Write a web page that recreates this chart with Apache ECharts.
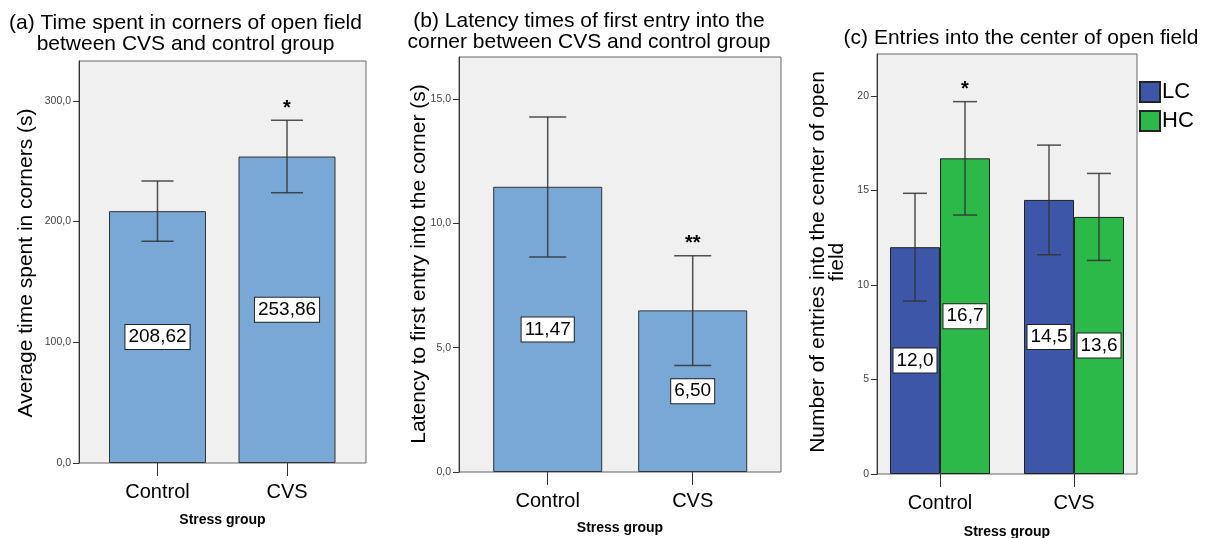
<!DOCTYPE html>
<html><head><meta charset="utf-8">
<script src="https://cdn.jsdelivr.net/npm/echarts@6/dist/echarts.min.js"></script>
<style>html,body{margin:0;padding:0;background:#fff}#c{width:1209px;height:538px}</style>
</head><body><div id="c"></div>
<script>
// ---- data ----
var categories = ['Control', 'CVS'];
// (a) time spent in corners
var aMeans = [208.62, 253.86];
var aLow = [183.6, 223.9];
var aHigh = [233.6, 283.9];
var aSig = ['', '*'];
var aTicks = [0, 100, 200, 300];
// (b) latency to first entry
var bMeans = [11.47, 6.50];
var bLow = [8.65, 4.28];
var bHigh = [14.28, 8.70];
var bSig = ['', '**'];
var bTicks = [0, 5, 10, 15];
// (c) entries into center
var cGroups = ['LC', 'HC'];
var cLC = [12.0, 14.5];
var cHC = [16.7, 13.6];
var cLCLow = [9.15, 11.6];
var cLCHigh = [14.85, 17.4];
var cHCLow = [13.7, 11.3];
var cHCHigh = [19.7, 15.9];
var cLCSig = ['', ''];
var cHCSig = ['*', ''];
var cTicks = [0, 5, 10, 15, 20];

var FONT = 'Liberation Sans, Arial, sans-serif';
var chart = echarts.init(document.getElementById('c'));

function comma(v, d) { return v.toFixed(d).replace('.', ','); }

function errSeries(xi, yi, low, high, sig, capW, offset) {
  var data = low.map(function (l, i) { return [i, l, high[i]]; });
  return {
    type: 'custom', xAxisIndex: xi, yAxisIndex: yi, z: 10, silent: true,
    data: data,
    renderItem: function (params, api) {
      var i = api.value(0);
      var top = api.coord([i, api.value(2)]);
      var bot = api.coord([i, api.value(1)]);
      var x = top[0] + offset;
      var st = { stroke: '#333', lineWidth: 1.5, opacity: 0.85 };
      var ch = [
        { type: 'line', shape: { x1: x, y1: top[1], x2: x, y2: bot[1] }, style: st },
        { type: 'line', shape: { x1: x - capW / 2, y1: top[1], x2: x + capW / 2, y2: top[1] }, style: st },
        { type: 'line', shape: { x1: x - capW / 2, y1: bot[1], x2: x + capW / 2, y2: bot[1] }, style: st }
      ];
      if (sig[params.dataIndex]) {
        ch.push({ type: 'text', style: { text: sig[params.dataIndex], x: x, y: top[1] - 12, align: 'center', verticalAlign: 'middle', font: 'bold 20px ' + FONT, fill: '#000' } });
      }
      return { type: 'group', children: ch };
    }
  };
}

function frameY(gi, max, ticks, dec) {
  return {
    gridIndex: gi, type: 'value', min: 0, max: max,
    axisLine: { show: true, lineStyle: { color: '#333', width: 1 } },
    axisTick: { show: true, length: 6, lineStyle: { color: '#333' }, customValues: ticks },
    axisLabel: { color: '#444', fontSize: 10.5, fontFamily: FONT, margin: 8, customValues: ticks,
      formatter: function (v) { return ticks.indexOf(v) >= 0 ? comma(v, dec) : ''; } },
    splitLine: { show: false }
  };
}
function hiddenY(gi, max) { return { gridIndex: gi, type: 'value', min: 0, max: max, show: false }; }
function hiddenX(gi) { return { gridIndex: gi, type: 'category', data: [''], show: false }; }
function dataX(gi) {
  return {
    gridIndex: gi, type: 'category', data: categories,
    axisLine: { show: false },
    axisTick: { show: true, alignWithLabel: true, length: 13, lineStyle: { color: '#333' } },
    axisLabel: { color: '#000', fontSize: 20, fontFamily: FONT, margin: 19 },
    splitLine: { show: false }
  };
}
var frameGrid = { show: true, backgroundColor: '#f0f0f0', borderColor: '#666', borderWidth: 1 };
function fg(l, r, t, b) { return Object.assign({ left: l, width: r - l, top: t, height: b - t }, frameGrid); }
function dg(l, r, t, b) { return { left: l, width: r - l, top: t, height: b - t }; }

var boxLabel = function (dec) {
  return { show: true, position: 'inside', color: '#000', fontSize: 19, fontFamily: FONT,
    backgroundColor: '#fff', borderColor: '#222', borderWidth: 1, padding: [3, 3, 2, 3],
    formatter: function (p) { return comma(p.value, dec); } };
};

var option = {
  animation: false,
  textStyle: { fontFamily: FONT },
  grid: [
    fg(79, 366, 61, 463), dg(92.75, 351.75, 61, 463),
    fg(459, 781, 57, 472), dg(475.2, 765.2, 57, 472),
    fg(877, 1137, 54, 474), dg(873, 1141, 54, 474)
  ],
  xAxis: [hiddenX(0), dataX(1), hiddenX(2), dataX(3), hiddenX(4), dataX(5)],
  yAxis: [
    frameY(0, 333, aTicks, 1), hiddenY(1, 333),
    frameY(2, 16.69, bTicks, 1), hiddenY(3, 16.69),
    frameY(4, 22.22, cTicks, 0), hiddenY(5, 22.22)
  ],
  legend: {
    data: cGroups, orient: 'vertical', left: 1134, top: 76, itemWidth: 20, itemHeight: 20, itemGap: 7,
    icon: 'rect', textStyle: { fontSize: 22, color: '#000', fontFamily: FONT, padding: [0, 0, 0, -3] }
  },
  series: [
    { type: 'bar', xAxisIndex: 1, yAxisIndex: 1, data: aMeans, barWidth: 97,
      itemStyle: { color: '#7aa8d6', borderColor: '#333', borderWidth: 1 }, label: boxLabel(2) },
    errSeries(1, 1, aLow, aHigh, aSig, 32, 0),
    { type: 'bar', xAxisIndex: 3, yAxisIndex: 3, data: bMeans, barWidth: 109,
      itemStyle: { color: '#7aa8d6', borderColor: '#333', borderWidth: 1 }, label: boxLabel(2) },
    errSeries(3, 3, bLow, bHigh, bSig, 37, 0),
    { name: 'LC', type: 'bar', xAxisIndex: 5, yAxisIndex: 5, data: cLC, barWidth: 50, barGap: '0%',
      itemStyle: { color: '#3d56a8', borderColor: '#222', borderWidth: 1 }, label: boxLabel(1) },
    { name: 'HC', type: 'bar', xAxisIndex: 5, yAxisIndex: 5, data: cHC, barWidth: 50, barGap: '0%',
      itemStyle: { color: '#2db84a', borderColor: '#222', borderWidth: 1 }, label: boxLabel(1) },
    errSeries(5, 5, cLCLow, cLCHigh, cLCSig, 24, -25),
    errSeries(5, 5, cHCLow, cHCHigh, cHCSig, 24, 25)
  ],
  graphic: [
    { type: 'text', x: 185.5, y: 33.5, style: { text: '(a) Time spent in corners of open field\nbetween CVS and control group', font: '21px ' + FONT, fill: '#000', align: 'center', verticalAlign: 'middle', lineHeight: 21 } },
    { type: 'text', x: 589, y: 31.5, style: { text: '(b) Latency times of first entry into the\ncorner between CVS and control group', font: '21px ' + FONT, fill: '#000', align: 'center', verticalAlign: 'middle', lineHeight: 21 } },
    { type: 'text', x: 1021, y: 38, style: { text: '(c) Entries into the center of open field', font: '21px ' + FONT, fill: '#000', align: 'center', verticalAlign: 'middle' } },
    { type: 'text', x: 26, y: 263, rotation: Math.PI / 2, style: { text: 'Average time spent in corners (s)', font: '21px ' + FONT, fill: '#000', align: 'center', verticalAlign: 'middle' } },
    { type: 'text', x: 419, y: 264, rotation: Math.PI / 2, style: { text: 'Latency to first entry into the corner (s)', font: '21px ' + FONT, fill: '#000', align: 'center', verticalAlign: 'middle' } },
    { type: 'text', x: 828, y: 262, rotation: Math.PI / 2, style: { text: 'Number of entries into the center of open\nfield', font: '21px ' + FONT, fill: '#000', align: 'center', verticalAlign: 'middle', lineHeight: 19 } },
    { type: 'text', x: 222.5, y: 520, style: { text: 'Stress group', font: 'bold 14px ' + FONT, fill: '#000', align: 'center', verticalAlign: 'middle' } },
    { type: 'text', x: 620, y: 528, style: { text: 'Stress group', font: 'bold 14px ' + FONT, fill: '#000', align: 'center', verticalAlign: 'middle' } },
    { type: 'text', x: 1007, y: 532, style: { text: 'Stress group', font: 'bold 14px ' + FONT, fill: '#000', align: 'center', verticalAlign: 'middle' } }
  ]
};
chart.setOption(option);
</script>
</body></html>
